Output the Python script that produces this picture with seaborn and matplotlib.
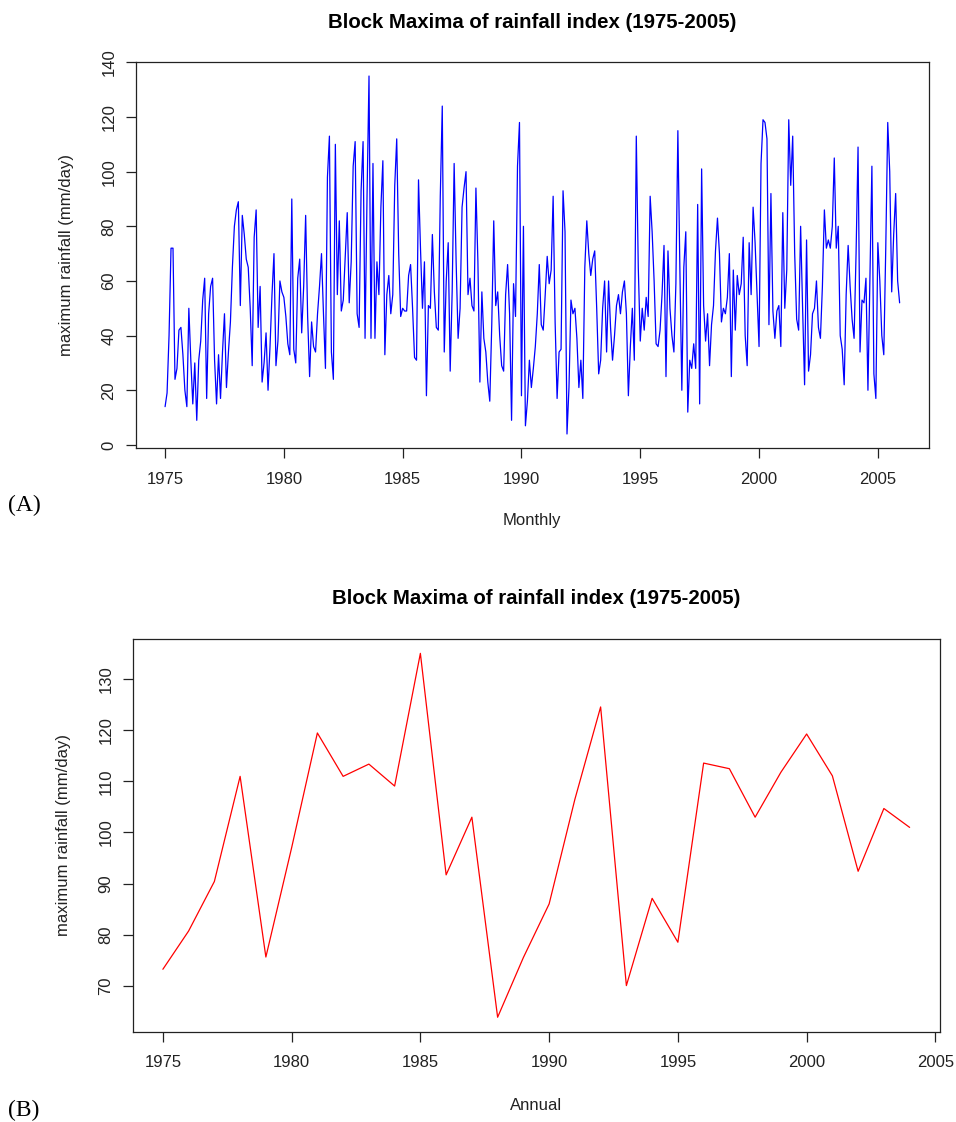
import numpy as np
import pandas as pd
import matplotlib
matplotlib.use("Agg")
import matplotlib.pyplot as plt
import seaborn as sns

# ---------------- data ----------------
start_year = 1975
monthly_max = [
    # 1975 - 1979
    14, 19, 40, 72, 72, 24, 28, 42, 43, 33,
    20, 14, 50, 31, 15, 30, 9, 31, 38, 53,
    61, 17, 48, 58, 61, 31, 15, 33, 17, 34,
    48, 21, 34, 45, 65, 80, 86, 89, 51, 84,
    77, 68, 65, 50, 29, 76, 86, 43, 58, 23,
    30, 41, 20, 36, 55, 70, 29, 38, 60, 56,
    # 1980 - 1985
    54, 47, 37, 33, 90, 35, 30, 61, 68, 41,
    58, 84, 47, 25, 45, 36, 34, 48, 58, 70,
    48, 28, 98, 113, 34, 24, 110, 55, 82, 49,
    53, 69, 85, 52, 67, 102, 111, 48, 43, 93,
    111, 39, 91, 135, 39, 103, 39, 67, 55, 87,
    104, 33, 55, 62, 48, 55, 95, 112, 70, 47,
    50, 49, 49, 62,
    # 1985 - 1990
    66, 50, 32, 31, 97, 72, 50, 67, 18, 51,
    50, 77, 56, 43, 42, 91, 124, 34, 60, 74,
    27, 56, 103, 67, 39, 50, 87, 94, 100, 55,
    61, 51, 49, 94, 67, 23, 56, 39, 34, 23,
    16, 44, 82, 51, 56, 40, 29, 27, 55, 66,
    48, 9, 59, 47, 102, 118, 18, 80, 7, 16,
    # 1990 - 1995
    31, 21, 28, 36, 48, 66, 44, 42, 55, 69,
    59, 64, 91, 45, 17, 34, 35, 93, 78, 4,
    21, 53, 48, 50, 39, 21, 31, 17, 65, 82,
    70, 62, 68, 71, 50, 26, 31, 50, 60, 34,
    60, 43, 31, 40, 51, 55, 48, 56, 60, 48,
    18, 36, 50, 31, 113, 65, 38, 50, 42,
    # 1995 - 2000
    54, 47, 91, 78, 60, 37, 36, 42, 55, 73,
    25, 71, 50, 40, 34, 59, 115, 65, 20, 65,
    78, 12, 31, 28, 37, 28, 88, 15, 101, 51,
    38, 48, 29, 44, 51, 71, 83, 70, 45, 50,
    48, 54, 70, 25, 64, 42, 62, 55, 59, 76,
    40, 29, 74, 55, 87, 74, 55, 36, 103, 119,
    # 2000 - 2005
    118, 112, 44, 92, 49, 39, 49, 51, 36, 85,
    50, 64, 119, 95, 113, 70, 46, 42, 80, 50,
    22, 75, 27, 33, 48, 50, 60, 43, 39, 58,
    86, 72, 75, 72, 80, 105, 72, 80, 40, 35,
    22, 55, 73, 58, 46, 39, 70, 109, 34, 53,
    52, 61, 20, 60, 102, 26, 17, 74, 60, 40,
    33, 72, 118, 100, 56, 77, 92, 60, 52,
]

annual_years = list(range(1975, 2005))
annual_max = [73.2, 80.7, 90.4, 111.0, 75.6, 97.0, 119.5, 111.0, 113.4, 109.1,
              135.1, 91.7, 103.0, 63.8, 75.5, 86.0, 106.5, 124.6, 70.0, 87.1,
              78.5, 113.6, 112.5, 103.0, 111.8, 119.3, 111.1, 92.4, 104.7, 101.0]

title_text = "Block Maxima of rainfall index (1975-2005)"
ylabel_text = "maximum rainfall (mm/day)"
xlabel_top = "Monthly"
xlabel_bottom = "Annual"
panel_labels = ["(A)", "(B)"]
x_ticks = [1975, 1980, 1985, 1990, 1995, 2000, 2005]
top_yticks = [0, 20, 40, 60, 80, 100, 120, 140]
bottom_yticks = [70, 80, 90, 100, 110, 120, 130]

monthly_df = pd.DataFrame({
    "time": start_year + np.arange(len(monthly_max)) / 12.0,
    "value": monthly_max,
})
annual_df = pd.DataFrame({"year": annual_years, "value": annual_max})

# ---------------- style ----------------
sns.set_theme(style="ticks")
plt.rcParams['font.family'] = ['Liberation Sans', 'DejaVu Sans']

W, H = 956, 1122
fig = plt.figure(figsize=(W / 100, H / 100), dpi=100)
fig.patch.set_facecolor("white")

def rlim(vmin, vmax):
    r = vmax - vmin
    return vmin - 0.04 * r, vmax + 0.04 * r

def px_axes(left, top, right, bottom):
    return fig.add_axes([left / W, 1 - bottom / H, (right - left) / W, (bottom - top) / H])

ax1 = px_axes(135.7, 61.7, 929.0, 448.3)
ax2 = px_axes(133.0, 638.8, 939.5, 1031.8)

sns.lineplot(data=monthly_df, x="time", y="value", ax=ax1,
             color="#0000FF", linewidth=0.9)
sns.lineplot(data=annual_df, x="year", y="value", ax=ax2,
             color="#FF0000", linewidth=0.9)

ax1.set_xlim(*rlim(monthly_df["time"].min(), monthly_df["time"].max()))
ax1.set_ylim(*rlim(monthly_df["value"].min(), monthly_df["value"].max()))
ax2.set_xlim(*rlim(annual_df["year"].min(), annual_df["year"].max()))
ax2.set_ylim(*rlim(annual_df["value"].min(), annual_df["value"].max()))

for ax, yt in ((ax1, top_yticks), (ax2, bottom_yticks)):
    ax.set_xticks(x_ticks)
    ax.set_xticklabels([str(t) for t in x_ticks])
    ax.set_yticks(yt)
    ax.set_yticklabels([str(t) for t in yt], rotation=90, va="center")
    ax.set_xlabel("")
    ax.set_ylabel("")
    ax.tick_params(axis="both", direction="out", length=7, width=0.9,
                   color="#222222", labelcolor="#222222", labelsize=12)
    ax.tick_params(axis="x", pad=10)
    ax.tick_params(axis="y", pad=7)
    for sp in ax.spines.values():
        sp.set_visible(True)
        sp.set_color("#222222")
        sp.set_linewidth(0.9)
    ax.grid(False)

# titles
cx1 = (135.7 + 929.0) / 2 / W
cx2 = (133.0 + 939.5) / 2 / W
fig.text(cx1, 1 - 22 / H, title_text, ha="center", va="center",
         fontsize=14.7, fontweight="bold", color="black")
fig.text(cx2, 1 - 599 / H, title_text, ha="center", va="center",
         fontsize=14.7, fontweight="bold", color="black")

# axis labels
fig.text(cx1, 1 - 521 / H, xlabel_top, ha="center", va="center", fontsize=12, color="#222222")
fig.text(cx2, 1 - 1106 / H, xlabel_bottom, ha="center", va="center", fontsize=12, color="#222222")
fig.text(67 / W, 1 - 255 / H, ylabel_text, ha="center", va="center",
         rotation=90, fontsize=12, color="#222222")
fig.text(64 / W, 1 - 835 / H, ylabel_text, ha="center", va="center",
         rotation=90, fontsize=12, color="#222222")

# panel labels
fig.text(8 / W, 1 - 505 / H, panel_labels[0], ha="left", va="center",
         fontsize=17, family=["Liberation Serif", "DejaVu Serif"], color="black")
fig.text(8 / W, 1 - 1110 / H, panel_labels[1], ha="left", va="center",
         fontsize=17, family=["Liberation Serif", "DejaVu Serif"], color="black")

fig.savefig("out.png", dpi=100, facecolor="white")
